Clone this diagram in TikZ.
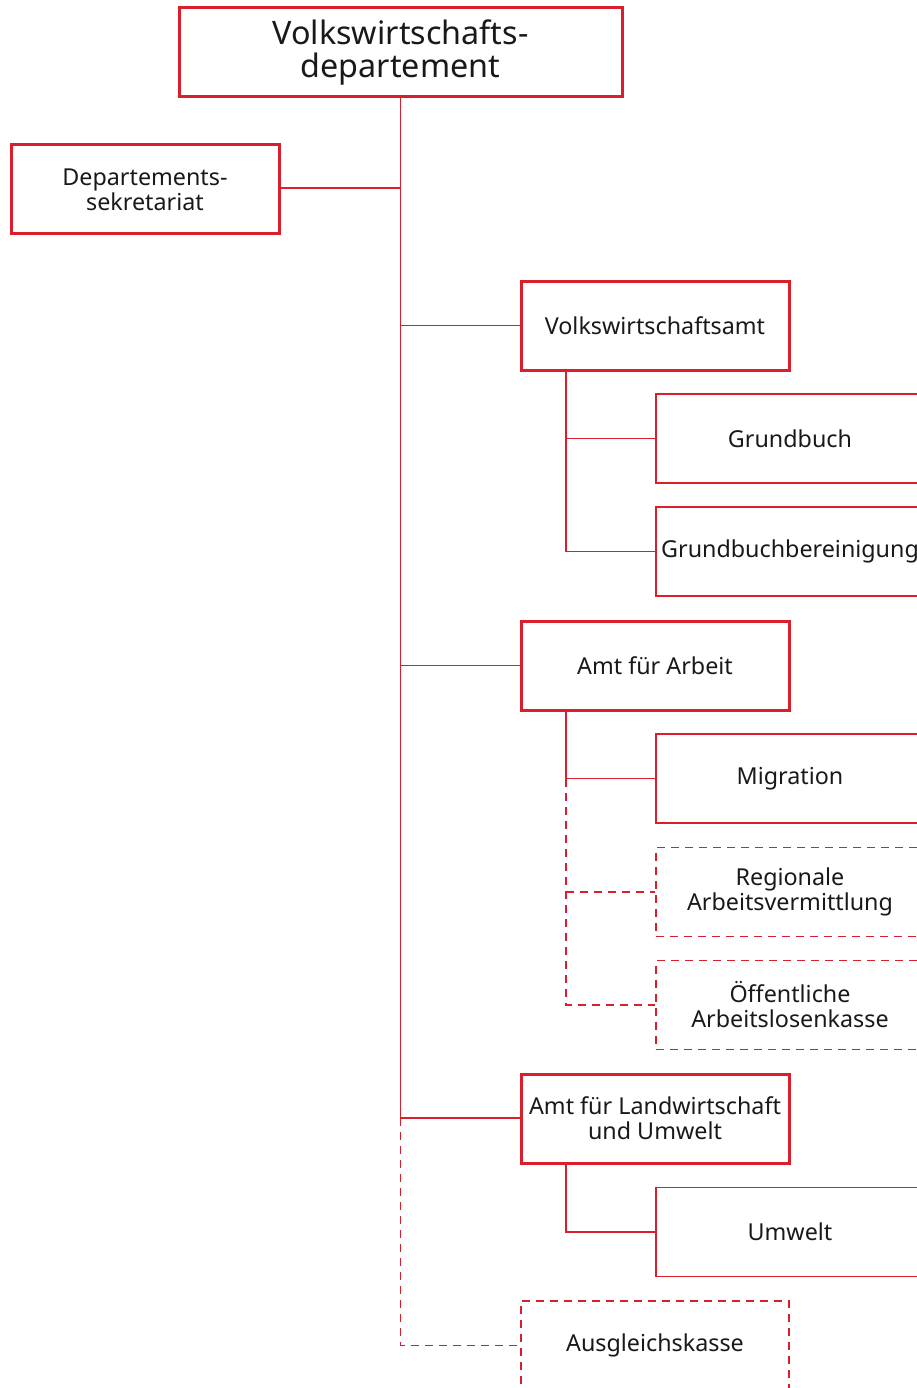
\documentclass[tikz,border=0pt]{standalone}
\usepackage{fontspec}
\setmainfont{Noto Sans}
\definecolor{orgred}{RGB}{218,30,44}
\definecolor{txt}{RGB}{25,25,25}
\tikzset{
  box/.style={draw=orgred, fill=white, text=txt, minimum width=268pt, minimum height=89pt, inner sep=0pt, align=center, font=\fontsize{23.3}{25}\selectfont},
  mainbox/.style={box, line width=3pt},
  subbox/.style={box, line width=1.9pt},
  dbox/.style={box, line width=1.9pt, dash pattern=on 8pt off 6pt},
  conn/.style={draw=orgred, line width=1.7pt},
  dconn/.style={draw=orgred, line width=1.8pt, dash pattern=on 8pt off 6pt},
}
\begin{document}
\begin{tikzpicture}[x=1pt,y=-1pt]
\useasboundingbox (0,0) rectangle (917,1388);
\clip (0,0) rectangle (917,1388);
% nodes
\node[mainbox, minimum width=443pt, font=\fontsize{32.3}{33}\selectfont] (vwd) at (400.5,52.5) {Volkswirtschafts-\\departement};
\node[mainbox] (sek) at (145,189.5) {Departements-\\sekretariat};
\node[mainbox] (vwa) at (655,325.5) {Volkswirtschaftsamt};
\node[subbox] (gb) at (790,438.5) {Grundbuch};
\node[subbox] (gbb) at (790,551.5) {Grundbuchbereinigung};
\node[mainbox] (afa) at (655,665.5) {Amt für Arbeit};
\node[subbox] (mig) at (790,778.5) {Migration};
\node[dbox] (rav) at (790,892) {Regionale\\Arbeitsvermittlung};
\node[dbox] (oak) at (790,1005) {Öffentliche\\Arbeitslosenkasse};
\node[mainbox] (afl) at (655,1118.5) {Amt für Landwirtschaft\\und Umwelt};
\node[subbox] (umw) at (790,1232) {Umwelt};
\node[dbox] (ak) at (655,1345.5) {Ausgleichskasse};
% trunk coordinates
\coordinate (t1) at (400.5,1118);
\coordinate (s1) at (566,0);
% main trunk
\draw[conn] (vwd.south) -- (t1);
\draw[conn] (sek.east |- 0,188) -- (t1 |- 0,188);
\draw[conn] (t1 |- vwa.west) -- (vwa.west);
\draw[conn] (t1 |- afa.west) -- (afa.west);
\draw[conn] (t1) -- (t1 -| afl.west);
\draw[dconn] (t1) |- (ak.west);
% Volkswirtschaftsamt
\draw[conn] (vwa.south -| s1) |- (gbb.west);
\draw[conn] (s1 |- gb.west) -- (gb.west);
% Amt fuer Arbeit
\draw[conn] (afa.south -| s1) |- (mig.west);
\draw[dconn] (s1 |- mig.west) |- (oak.west);
\draw[dconn] (s1 |- rav.west) -- (rav.west);
% Landwirtschaft
\draw[conn] (afl.south -| s1) |- (umw.west);
\end{tikzpicture}
\end{document}
